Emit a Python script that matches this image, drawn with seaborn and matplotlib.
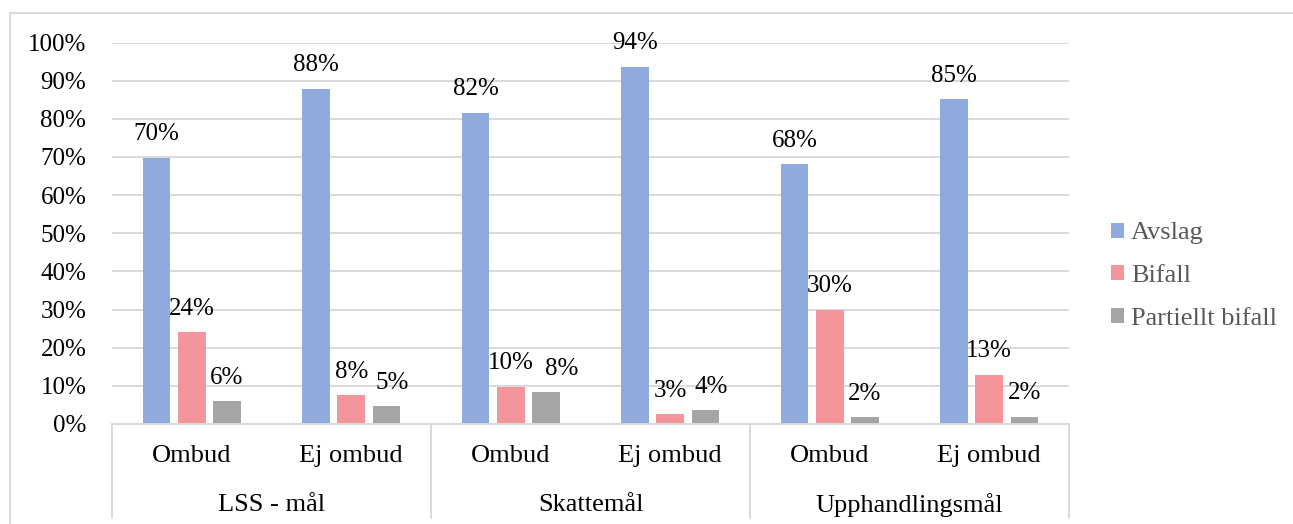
import matplotlib
matplotlib.use("Agg")
import matplotlib.pyplot as plt
import matplotlib.transforms as mtransforms
from matplotlib.patches import Rectangle
import seaborn as sns
import pandas as pd
import numpy as np

# ---- data ----
categories = ["LSS - mål", "Skattemål", "Upphandlingsmål"]
subgroups = ["Ombud", "Ej ombud"]
series = ["Avslag", "Bifall", "Partiellt bifall"]
avslag = [69.8, 87.9, 81.6, 93.7, 68.1, 85.1]
bifall = [24.0, 7.6, 9.8, 2.6, 30.0, 12.9]
partiellt = [6.0, 4.6, 8.3, 3.6, 1.8, 1.9]
yticks = [0, 10, 20, 30, 40, 50, 60, 70, 80, 90, 100]

colors = ["#8FAADC", "#F4959C", "#A5A5A5"]
grid_c = "#D9D9D9"

sns.set_theme(style="white")
plt.rcParams["font.family"] = ["Liberation Serif", "DejaVu Serif"]

keys = [f"{c}|{s}" for c in categories for s in subgroups]
rows = []
for name, vals in zip(series, [avslag, bifall, partiellt]):
    for k, v in zip(keys, vals):
        rows.append({"pos": k, "serie": name, "value": v})
df = pd.DataFrame(rows)

fig = plt.figure(figsize=(12.93, 5.24), dpi=100)
W, H = 1293, 524
left, right, top, bottom = 112, 1069, 42.5, 424
ax = fig.add_axes([left / W, (H - bottom) / H, (right - left) / W, (bottom - top) / H])

sns.barplot(data=df, x="pos", y="value", hue="serie", order=keys, hue_order=series,
            palette=colors, width=0.664, gap=0.217, saturation=1, ax=ax,
            legend=True, errorbar=None, linewidth=0)

ax.set_xlim(-0.5, len(keys) - 0.5)
ax.set_ylim(0, 100)
ax.set_yticks(yticks)
ax.set_yticklabels([f"{t}%" for t in yticks], fontsize=18, color="black")
ax.yaxis.grid(True, color=grid_c, linewidth=1.4)
ax.set_axisbelow(True)
for s in ["left", "right", "top"]:
    ax.spines[s].set_visible(False)
ax.spines["bottom"].set_color(grid_c)
ax.spines["bottom"].set_linewidth(1.4)
ax.tick_params(axis="y", length=0, pad=18.5)
ax.tick_params(axis="x", length=0, pad=15)
ax.set_xticks(range(len(keys)))
ax.set_xticklabels([s for c in categories for s in subgroups], fontsize=19, color="black")
ax.set_xlabel("")
ax.set_ylabel("")

# data labels
nudge = {(2, 2): 16, (1, 2): 6, (3, 2): 6}
for si, cont in enumerate(ax.containers):
    for bi, bar in enumerate(cont):
        h = bar.get_height()
        xc = bar.get_x() + bar.get_width() / 2
        dx = nudge.get((bi, si), 0) * 72 / 100
        ax.annotate(f"{h:.0f}%", (xc, h), xytext=(dx, 12.5), textcoords="offset points",
                    ha="center", va="baseline", fontsize=18, color="black")

# multi-level category axis
trans = mtransforms.blended_transform_factory(ax.transData, ax.transAxes)
axh = bottom - top
sep_bottom = -(518 - bottom) / axh
for b in [-0.5, 1.5, 3.5, 5.5]:
    ax.plot([b, b], [0, sep_bottom], transform=trans, color=grid_c, lw=1.4, clip_on=False)
for i, c in enumerate(categories):
    ax.text(2 * i + 0.5, -(505 - bottom) / axh, c, transform=trans, ha="center", va="center",
            fontsize=19, color="black")

# legend
handles, labels = ax.get_legend_handles_labels()
ax.legend(handles, labels, loc="center left", bbox_to_anchor=(1111 / W, (H - 276) / H),
          bbox_transform=fig.transFigure, frameon=False, fontsize=19,
          handlelength=0.5, handleheight=0.5, handletextpad=0.25, labelspacing=0.78,
          labelcolor="#595959", borderpad=0, borderaxespad=0)

# outer chart frame (partially outside the image)
fig.patches.append(Rectangle((10 / W, -0.1), 1.2, (H - 13) / H + 0.1, transform=fig.transFigure,
                             fill=False, edgecolor=grid_c, linewidth=1.4))

fig.savefig("out.png", dpi=100)
